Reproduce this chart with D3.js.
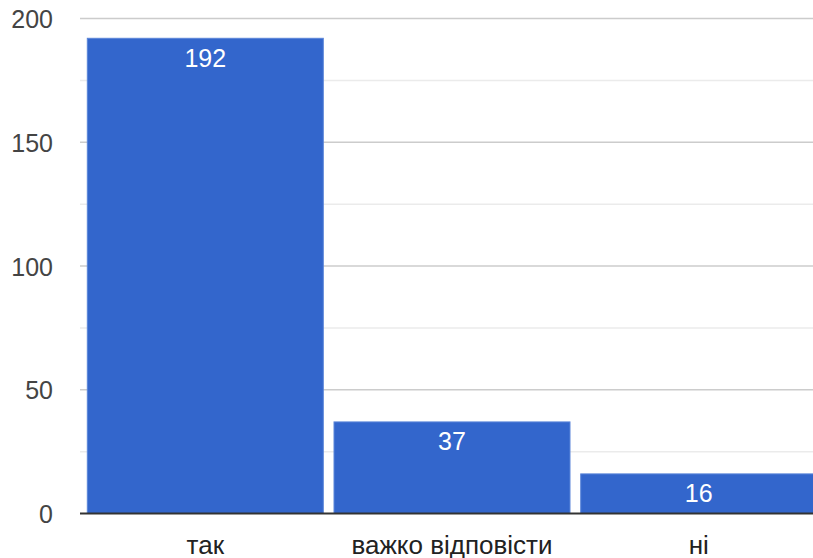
<!DOCTYPE html>
<html>
<head>
<meta charset="utf-8">
<script src="https://cdn.jsdelivr.net/npm/d3@7"></script>
<style>
  html, body { margin: 0; padding: 0; background: #fff; }
  svg { display: block; }
  text { font-family: Arial, "Liberation Sans", sans-serif; }
</style>
</head>
<body>
<svg id="chart" width="813" height="558"></svg>
<script>
const categories = ["так", "важко відповісти", "ні"];
const values = [192, 37, 16];
const majorTicks = [0, 50, 100, 150, 200];
const minorTicks = [25, 75, 125, 175];

const W = 813, H = 558;
const plotLeft = 80, plotRight = 824, plotTop = 18.5, plotBottom = 513.5;

const svg = d3.select("#chart");

const x = d3.scaleBand()
  .domain(categories)
  .range([plotLeft, plotRight])
  .paddingInner(0.0434)
  .paddingOuter(0.0296);

const y = d3.scaleLinear().domain([0, 200]).range([plotBottom, plotTop]);

// minor gridlines
svg.append("g").selectAll("line").data(minorTicks).join("line")
  .attr("x1", plotLeft).attr("x2", W)
  .attr("y1", d => y(d)).attr("y2", d => y(d))
  .attr("stroke", "#ebebeb").attr("stroke-width", 1.5);

// major gridlines
svg.append("g").selectAll("line").data(majorTicks.filter(d => d !== 0)).join("line")
  .attr("x1", plotLeft).attr("x2", W)
  .attr("y1", d => y(d)).attr("y2", d => y(d))
  .attr("stroke", "#cccccc").attr("stroke-width", 1.5);

// y tick labels via axis
const yAxis = d3.axisLeft(y).tickValues(majorTicks).tickSize(0).tickPadding(27);
const gy = svg.append("g").attr("transform", `translate(${plotLeft},0)`).call(yAxis);
gy.select(".domain").remove();
gy.selectAll("text")
  .attr("font-size", 25)
  .attr("fill", "#444444")
  .attr("font-family", "Arial, 'Liberation Sans', sans-serif")
  .attr("dy", "0.36em");

// bars
svg.append("g").selectAll("rect").data(values).join("rect")
  .attr("x", (d, i) => x(categories[i]))
  .attr("y", d => y(d))
  .attr("width", x.bandwidth())
  .attr("height", d => plotBottom - y(d))
  .attr("fill", "#3366cc")
  .attr("stroke", "#5a85d9")
  .attr("stroke-width", 1);

// value labels
svg.append("g").selectAll("text").data(values).join("text")
  .attr("x", (d, i) => x(categories[i]) + x.bandwidth() / 2)
  .attr("y", d => y(d) + 28.5)
  .attr("text-anchor", "middle")
  .attr("font-size", 25)
  .attr("fill", "#ffffff")
  .text(d => d);

// baseline
svg.append("line")
  .attr("x1", plotLeft).attr("x2", W)
  .attr("y1", y(0)).attr("y2", y(0))
  .attr("stroke", "#333333").attr("stroke-width", 2);

// x axis labels
const xAxis = d3.axisBottom(x).tickSize(0).tickPadding(0);
const gx = svg.append("g").attr("transform", `translate(0,${plotBottom})`).call(xAxis);
gx.select(".domain").remove();
gx.selectAll("text")
  .attr("font-size", 26)
  .attr("fill", "#222222")
  .attr("font-family", "Arial, 'Liberation Sans', sans-serif")
  .attr("dy", null)
  .attr("y", 40);
</script>
</body>
</html>
